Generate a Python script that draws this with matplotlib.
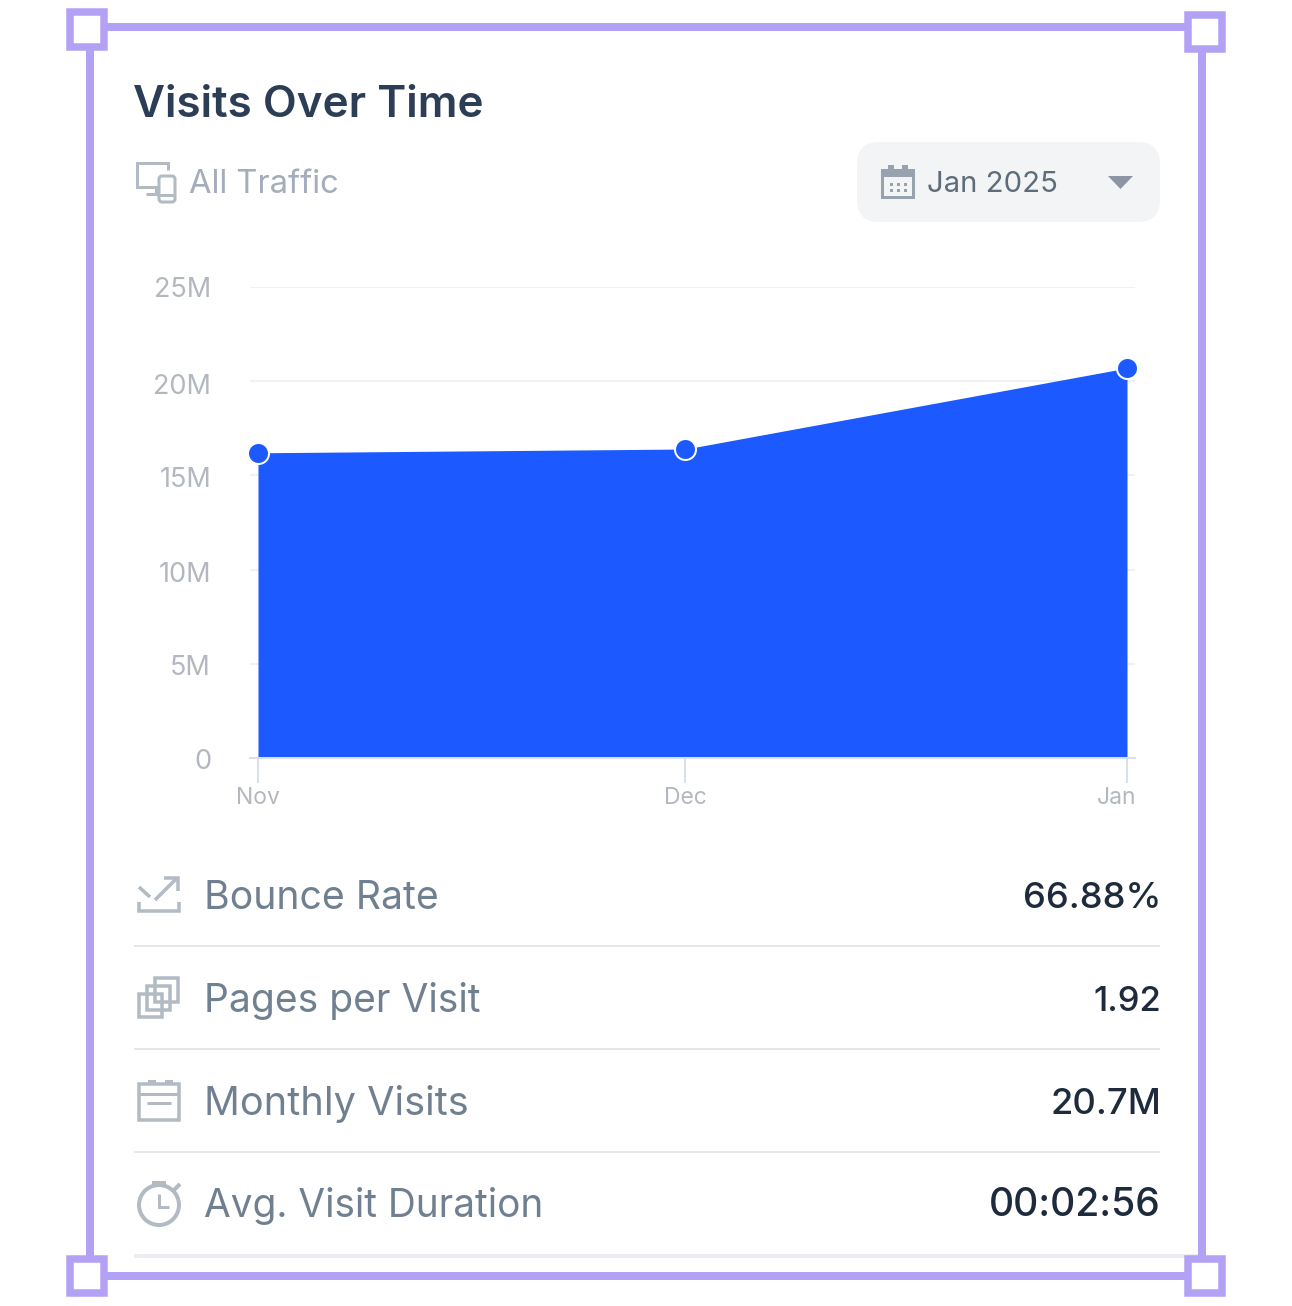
import matplotlib
matplotlib.use("Agg")
import matplotlib.pyplot as plt
import matplotlib.transforms as mt
from matplotlib.patches import FancyBboxPatch, Rectangle, Circle, Polygon

plt.rcParams['font.family'] = ['Inter', 'DejaVu Sans']

# ---- data ----
months = ['Nov', 'Dec', 'Jan']
days_from_start = [0, 30, 61]
visits_m = [16.2, 16.4, 20.7]
y_ticks = [0, 5, 10, 15, 20, 25]
y_tick_labels = ['0', '5M', '10M', '15M', '20M', '25M']
title = 'Visits Over Time'
subtitle = 'All Traffic'
period = 'Jan 2025'
metric_names = ['Bounce Rate', 'Pages per Visit', 'Monthly Visits', 'Avg. Visit Duration']
metric_values = ['66.88%', '1.92', '20.7M', '00:02:56']

W, H = 1292, 1306
PURPLE = '#B3A1F6'
BLUE = '#1C5AFF'
ICON = '#B2BAC4'

fig = plt.figure(figsize=(W / 100, H / 100), dpi=100, facecolor='white')
px = 0.72  # points per pixel

# page overlay in pixel coordinates
pg = fig.add_axes([0, 0, 1, 1], zorder=1)
pg.set_xlim(0, W)
pg.set_ylim(H, 0)
pg.axis('off')

renderer = fig.canvas.get_renderer()


def fit(x, y, s, width, ha='left', **kw):
    t = pg.text(x, y, s, ha=ha, va='baseline', **kw)
    t.set_fontsize(20)
    w = t.get_window_extent(renderer).width
    t.set_fontsize(20 * width / w)
    return t


def line(xs, ys, lw=3, color=ICON, **kw):
    pg.plot(xs, ys, color=color, lw=lw * px, solid_capstyle='butt',
            solid_joinstyle='miter', **kw)


def box(x0, y0, x1, y1, lw=3, color=ICON, fc='none', z=3):
    pg.add_patch(Rectangle((x0, y0), x1 - x0, y1 - y0, fill=fc != 'none',
                           fc=fc, ec=color, lw=lw * px, zorder=z))


# selection frame
fb = 8
line([90, 1202, 1202, 90, 90], [27, 27, 1276, 1276, 27], lw=fb, color=PURPLE)
for (x0, y0, x1, y1) in [(70, 12, 104, 47), (1188, 15, 1222, 49),
                         (70, 1259, 104, 1293), (1188, 1259, 1222, 1293)]:
    box(x0, y0, x1, y1, lw=7.5, color=PURPLE, fc='white')

# header
fit(133, 117, title, 351, color='#2C3E55', fontweight='semibold')
fit(189, 193, subtitle, 150, color='#A4ADB9')

# device icon
line([168, 168, 137, 137, 156, 156, 146], [170, 163, 163, 187, 187, 194, 194], lw=3)
pg.add_patch(FancyBboxPatch((159, 176), 16, 26, boxstyle='round,pad=0,rounding_size=3',
                            fc='none', ec=ICON, lw=3 * px, zorder=3))
line([159, 175], [195, 195], lw=3)

# period pill
pg.add_patch(FancyBboxPatch((857, 142), 303, 80, boxstyle='round,pad=0,rounding_size=22',
                            fc='#F3F4F6', ec='none', zorder=2))
fit(927, 192, period, 131, color='#5E6B7A')
box(882, 170, 913, 197, lw=3, color='#98A2AE')
pg.add_patch(Rectangle((882, 170), 31, 7, fc='#98A2AE', ec='none', zorder=3))
for tx in (888, 902):
    pg.add_patch(Rectangle((tx, 165), 6, 6, fc='#98A2AE', ec='none', zorder=3))
for dx in (890, 897, 904):
    for dy in (183, 189):
        pg.add_patch(Rectangle((dx, dy), 3, 3, fc='#98A2AE', ec='none', zorder=3))
pg.add_patch(Polygon([(1108, 176), (1133, 176), (1120.5, 189)], fc='#8B95A3', ec='none', zorder=3))

# metric rows
name_base = [909, 1012, 1115, 1217]
value_base = [908, 1011, 1114, 1216]
name_w = [235, 276, 264, 339]
value_w = [138, 68, 111, 172]
for n, v, b, vb, nw, vw in zip(metric_names, metric_values, name_base, value_base, name_w, value_w):
    fit(203.5, b, n, nw, color='#708090')
    fit(1161, vb, v, vw, ha='right', color='#1E2B3C', fontweight='medium')
for y in (946, 1049, 1152):
    line([134, 1160], [y, y], lw=2, color='#E4E6EA')
line([134, 1198], [1256, 1256], lw=4, color='#EBEDF0')

# bounce icon
line([139, 139, 179, 179], [902, 911, 911, 902], lw=3.5)
line([155, 176], [900, 879], lw=3.5)
line([164, 178, 178], [878, 878, 891], lw=3.5)
line([139, 150], [887, 897], lw=3.5)
# pages icon
box(155, 978, 178, 1002, lw=3.5)
box(147, 986, 170, 1010, lw=3.5)
box(139, 994, 162, 1017, lw=3.5)
# calendar icon
box(139, 1084, 179, 1120, lw=3.5)
line([139, 179], [1094, 1094], lw=3)
line([147, 171], [1103, 1103], lw=3)
for tx in (148, 165):
    pg.add_patch(Rectangle((tx, 1080), 8, 4, fc=ICON, ec='none', zorder=3))
# clock icon
pg.add_patch(Circle((159, 1205), 20, fc='none', ec=ICON, lw=4 * px, zorder=3))
line([159, 159, 169], [1194, 1207, 1207], lw=3)
line([152, 166], [1183, 1183], lw=4)
line([174, 180], [1190, 1184], lw=4)

# chart: x spans px 250..1135, y spans px 287..758
px_per_day = 869 / 61
ax = fig.add_axes([250 / W, 1 - 758 / H, (1135 - 250) / W, (758 - 287) / H], zorder=2)
ax.patch.set_alpha(0)
ax.set_xlim(-8 / px_per_day, 61 + 8 / px_per_day)
ax.set_ylim(0, 25)
ax.fill_between(days_from_start, visits_m, 0, color=BLUE, lw=0, zorder=2)
ax.plot(days_from_start, visits_m, ls='none', zorder=3, marker='o', ms=21 * px,
        mfc=BLUE, mec='white', mew=2 * px, clip_on=False)
ax.set_yticks(y_ticks)
ax.set_yticklabels(y_tick_labels)
ax.set_xticks(days_from_start)
ax.set_xticklabels(months)
ax.grid(axis='y', color='#F0F1F4', lw=1.5, zorder=0)
ax.set_axisbelow(True)
for s in ('top', 'right', 'left'):
    ax.spines[s].set_visible(False)
ax.spines['bottom'].set_color('#D9DFEC')
ax.spines['bottom'].set_linewidth(2 * px)
ax.tick_params(axis='y', length=0, pad=28, labelsize=19.5, labelcolor='#B3B8C0')
ax.tick_params(axis='x', length=25 * px, width=2 * px, color='#D9DFEC', pad=3,
               labelsize=16.5, labelcolor='#B3B8C0')

# small per-label offsets in pixels as seen in the reference
y_label_shift = [-1, -1, -2, -2, -3, 0]
for lab, dy in zip(ax.get_yticklabels(), y_label_shift):
    lab.set_transform(lab.get_transform() + mt.ScaledTranslation(0, dy / 100, fig.dpi_scale_trans))
jan = ax.get_xticklabels()[2]
jan.set_ha('right')
jan.set_transform(jan.get_transform() + mt.ScaledTranslation(9 / 100, 0, fig.dpi_scale_trans))

fig.savefig('out.png', dpi=100, facecolor='white')
